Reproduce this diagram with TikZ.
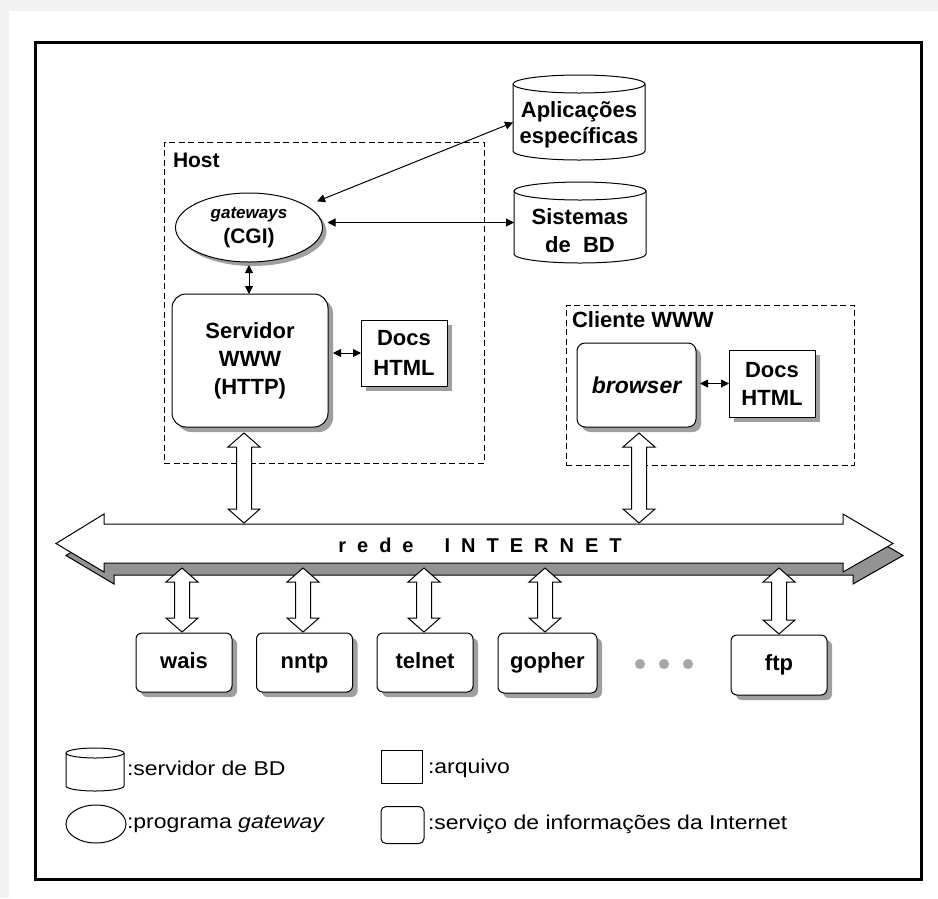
\documentclass[tikz,border=0pt]{standalone}
\usepackage{fontspec}
\setmainfont{Liberation Sans}
\usepackage{graphicx}
\usetikzlibrary{shapes.geometric,shadows,arrows.meta,calc}

% cylinder drawn around a named (invisible) rectangle node: node, x radius, y radius
\newcommand{\drawcyl}[3]{%
  \draw[fill=white] ([yshift=-#3]#1.north west) arc[start angle=180,end angle=0,x radius=#2,y radius=#3]
    -- ([yshift=#3]#1.south east) arc[start angle=0,end angle=-180,x radius=#2,y radius=#3] -- cycle;
  \draw ([yshift=-#3]#1.north west) arc[start angle=180,end angle=360,x radius=#2,y radius=#3];}

% hollow vertical double arrow: x and top tip from #1, bottom tip height from #2
\newcommand{\hollowdbl}[2]{%
  \draw[hollow] let \p1=(#1), \p2=(#2) in
    (\x1,\y1) -- (\x1+16pt,\y1-14pt) -- (\x1+7.5pt,\y1-14pt) -- (\x1+7.5pt,\y2+14pt)
    -- (\x1+16pt,\y2+14pt) -- (\x1,\y2) -- (\x1-16pt,\y2+14pt) -- (\x1-7.5pt,\y2+14pt)
    -- (\x1-7.5pt,\y1-14pt) -- (\x1-16pt,\y1-14pt) -- cycle;}

% outline of the network arrow, shifted by (#1,#2)
\newcommand{\netshape}[2]{%
  ([xshift={#1-48pt},yshift=#2]net.west) -- ([xshift=#1,yshift={#2+10pt}]net.north west)
  -- ([xshift=#1,yshift=#2]net.north west) -- ([xshift=#1,yshift=#2]net.north east)
  -- ([xshift=#1,yshift={#2+10pt}]net.north east) -- ([xshift={#1+50pt},yshift=#2]net.east)
  -- ([xshift=#1,yshift={#2-9pt}]net.south east) -- ([xshift=#1,yshift=#2]net.south east)
  -- ([xshift=#1,yshift=#2]net.south west) -- ([xshift=#1,yshift={#2-9pt}]net.south west) -- cycle}

\newcommand{\legwide}[1]{\scalebox{1.15}[1]{#1}}

\begin{document}
\begin{tikzpicture}[x=1pt,y=-1pt,line width=1pt,
  every node/.style={inner sep=0pt,outer sep=0pt},
  lbl/.style={font=\fontsize{22}{28}\selectfont\bfseries,align=center},
  shadowed/.style={drop shadow={shadow xshift=5pt,shadow yshift=-5pt,fill=gray!75,opacity=1}},
  svcbox/.style={draw,fill=white,rounded corners=6pt,shadowed,lbl,text height=16pt,text depth=5pt},
  filebox/.style={draw,fill=white,shadowed,font=\fontsize{22}{30}\selectfont\bfseries,align=center},
  dashbox/.style={draw,dash pattern=on 6pt off 3.5pt},
  cylbox/.style={rectangle},
  smallarrow/.style={{Triangle[length=8pt,width=8pt]}-{Triangle[length=8pt,width=8pt]}},
  hollow/.style={draw,fill=white,line width=1pt},
  legtext/.style={anchor=west,font=\fontsize{20}{24}\selectfont},
  dot/.style={circle,fill=gray!70,minimum size=10pt}]

% page and frame
\path[use as bounding box] (0,0) rectangle (938,898);
\fill[gray!10] (0,0) rectangle (938,898);
\fill[white] (9,11) rectangle (938,898);
\draw[line width=3pt] (35,42) rectangle (921,879);

% host machine
\node[dashbox,minimum width=320pt,minimum height=321pt] (host) at (324,302.5) {};
\node[anchor=base west,font=\fontsize{21}{25}\selectfont\bfseries] (hostlbl) at (173,167) {Host};

\node[ellipse,draw,fill=white,drop shadow={shadow xshift=4pt,shadow yshift=-4pt,fill=gray!75,opacity=1},
  minimum width=147pt,minimum height=69pt,align=center,font=\fontsize{21}{25}\selectfont\bfseries]
  (gw) at (249,227.5) {{\fontsize{17}{25}\selectfont\itshape gateways}\\(CGI)};

\node[draw,fill=white,shadowed,rounded corners=14pt,minimum width=156pt,minimum height=133pt,lbl]
  (srv) at (250,360.5) {Servidor\\WWW\\(HTTP)};
\node[filebox,minimum width=86pt,minimum height=66pt] (docs1) at (404,353) {Docs\\HTML};

% databases
\node[cylbox,minimum width=132pt,minimum height=85pt] (apl) at (579,117.5) {};
\drawcyl{apl}{66pt}{9pt}
\node[font=\fontsize{22}{26}\selectfont\bfseries,align=center] (aplt) at (579,125) {Aplicações\\específicas};
\node[cylbox,minimum width=132pt,minimum height=81pt] (sis) at (580,222.5) {};
\drawcyl{sis}{66pt}{9pt}
\node[font=\fontsize{22}{28}\selectfont\bfseries,align=center] (sist) at (580,231) {Sistemas\\de~~BD};

% client
\node[dashbox,minimum width=288pt,minimum height=160pt] (cli) at (710,385) {};
\node[anchor=base west,font=\fontsize{22}{25}\selectfont\bfseries] (clilbl) at (572,327) {Cliente WWW};
\node[draw,fill=white,shadowed,rounded corners=8pt,minimum width=119pt,minimum height=84pt,
  font=\fontsize{23}{28}\selectfont\bfseries\itshape] (br) at (636.5,385) {browser};
\node[filebox,minimum width=86pt,minimum height=67pt,font=\fontsize{22}{28}\selectfont\bfseries] (docs2) at (772,383.5) {Docs\\HTML};

% small connectors
\draw[smallarrow] ([xshift=10pt,yshift=5pt]gw.20) -- ([yshift=-5pt]apl.west);
\draw[smallarrow,shorten >=5pt] (sis.west) -- (sis.west -| gw.east);
\draw[smallarrow,shorten <=3pt] (gw.south) -- (gw.south |- srv.north);
\draw[smallarrow,shorten >=5pt] (docs1.west) -- (docs1.west -| srv.east);
\draw[smallarrow,shorten >=4pt] (docs2.west) -- (docs2.west -| br.east);

% network backbone
\node[minimum width=739pt,minimum height=39pt] (net) at (473.5,543.5) {};
\draw[fill=gray!85] \netshape{10pt}{-12pt};
\draw[fill=white] \netshape{0pt}{0pt};
\node[font=\fontsize{20}{24}\selectfont\bfseries] (nettext) at (480,545)
  {r\kern11pt e\kern11pt d\kern11pt e\hspace{31pt}I\kern11pt N\kern11pt T\kern11pt E\kern11pt R\kern11pt N\kern11pt E\kern11pt T};

% services
\node[svcbox,minimum width=96pt,minimum height=59pt] (wais) at (184,662.5) {wais};
\node[svcbox,minimum width=96pt,minimum height=59pt] (nntp) at (304.5,662.5) {nntp};
\node[svcbox,minimum width=96pt,minimum height=59pt] (telnet) at (425,662.5) {telnet};
\node[svcbox,minimum width=99pt,minimum height=60pt] (gopher) at (547.5,663) {gopher};
\node[svcbox,minimum width=96pt,minimum height=60pt] (ftp) at (779,665) {ftp};
\node[dot] (d1) at (640,664) {};
\node[dot] (d2) at (664,664) {};
\node[dot] (d3) at (688,664) {};

% hollow links to the network
\hollowdbl{[xshift=-6pt,yshift=-6pt]srv.south}{[yshift=1pt]net.north}
\hollowdbl{[xshift=2.5pt,yshift=-6pt]br.south}{[yshift=1pt]net.north}
\hollowdbl{[xshift=-2pt,yshift=-5pt]wais.north |- net.south}{[yshift=1pt]wais.north}
\hollowdbl{[xshift=-1.5pt,yshift=-5pt]nntp.north |- net.south}{[yshift=1pt]nntp.north}
\hollowdbl{[xshift=-1pt,yshift=-5pt]telnet.north |- net.south}{[yshift=1pt]telnet.north}
\hollowdbl{[xshift=-2.5pt,yshift=-5pt]gopher.north |- net.south}{[yshift=1pt]gopher.north}
\hollowdbl{[yshift=-5pt]ftp.north |- net.south}{[yshift=1pt]ftp.north}

% legend
\node[cylbox,minimum width=58pt,minimum height=43pt] (lcyl) at (95,769.5) {};
\drawcyl{lcyl}{29pt}{5pt}
\node[legtext] (lt1) at (127,768) {\legwide{:servidor de BD}};
\node[ellipse,draw,minimum width=60pt,minimum height=38pt] (lell) at (96,824) {};
\node[legtext] (lt2) at (127,824) {\legwide{:programa \textit{gateway}}};
\node[draw,minimum width=41pt,minimum height=33pt] (lrect) at (401.5,767) {};
\node[legtext] (lt3) at (428,768) {\legwide{:arquivo}};
\node[draw,rounded corners=5pt,minimum width=43pt,minimum height=37pt] (lrnd) at (402.5,825) {};
\node[legtext] (lt4) at (428,824) {\legwide{:serviço de informações da Internet}};
\end{tikzpicture}
\end{document}
